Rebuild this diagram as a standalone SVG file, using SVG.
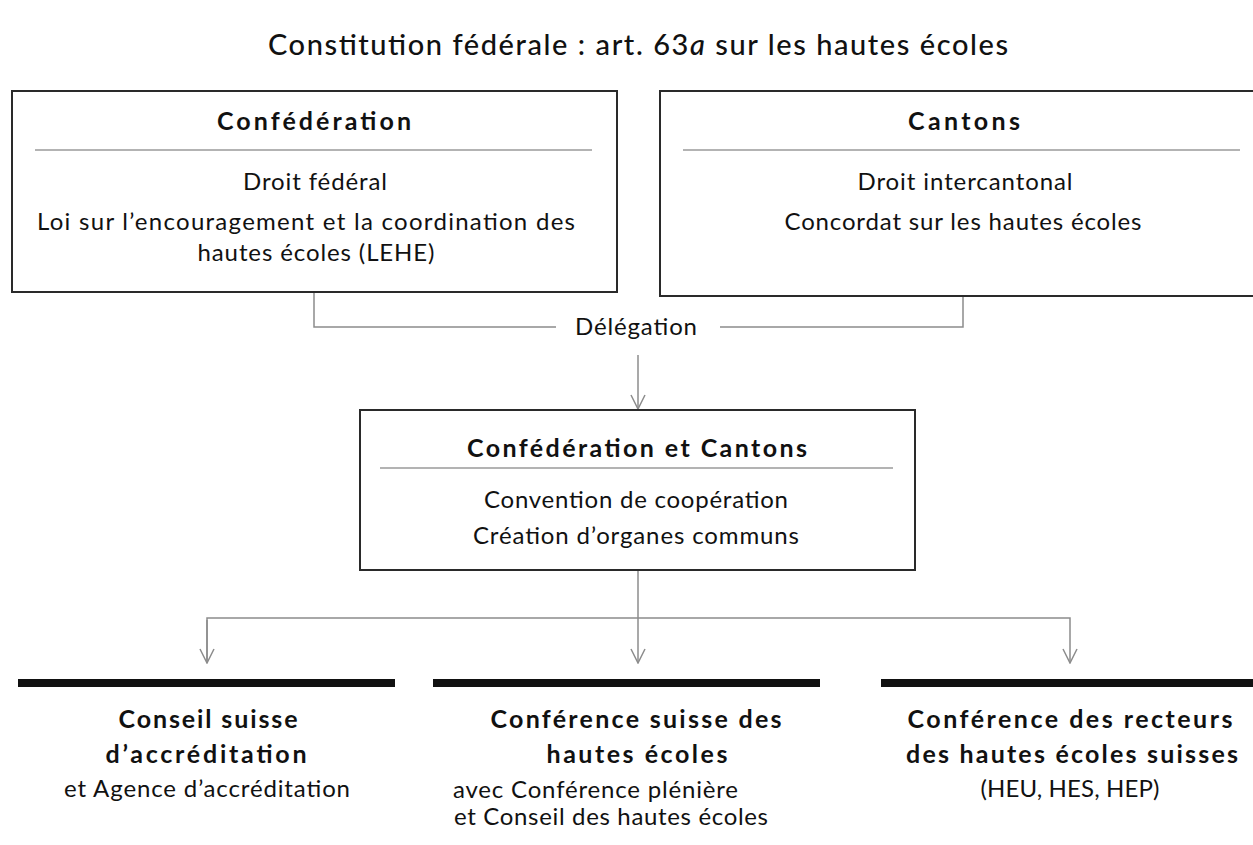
<svg xmlns="http://www.w3.org/2000/svg" width="1253" height="845" viewBox="0 0 1253 845">
<defs>
<style>
text{font-family:Lato,"Liberation Sans",Arial,sans-serif;fill:#111;}
.t{font-size:29px;text-anchor:middle;font-weight:500;}
.h{font-size:25px;font-weight:bold;text-anchor:middle;}
.b{font-size:24px;text-anchor:middle;}
.bl{font-size:24px;text-anchor:start;}
.box{fill:#fff;stroke:#2a2a2a;stroke-width:2;}
.sep{stroke:#9a9a9a;stroke-width:1.5;}
.con{fill:none;stroke:#8c8c8c;stroke-width:1.5;}
.bar{fill:#111;}
</style>
<marker id="arr" viewBox="0 0 16 16" markerWidth="16" markerHeight="16" refX="15" refY="8" orient="auto" markerUnits="userSpaceOnUse">
<path d="M1,1 L15,8 L1,15" fill="none" stroke="#8c8c8c" stroke-width="1.5"/>
</marker>
</defs>
<rect width="1253" height="845" fill="#fff"/>

<g id="title">
<text class="t" x="638" y="55" textLength="740" lengthAdjust="spacing">Constitution fédérale : art. 63<tspan font-style="italic">a</tspan> sur les hautes écoles</text>
</g>

<g id="connectors">
<polyline class="con" points="314,292 314,327 556,327"/>
<polyline class="con" points="720,327 963,327 963,296"/>
<line class="con" x1="638" y1="355" x2="638" y2="409" marker-end="url(#arr)"/>
<line class="con" x1="638" y1="570" x2="638" y2="663" marker-end="url(#arr)"/>
<polyline class="con" points="207,663 207,618 1070,618 1070,663" marker-end="url(#arr)"/>
<line class="con" x1="207" y1="620" x2="207" y2="663" marker-end="url(#arr)"/>
<text class="b" x="636" y="335" textLength="122" lengthAdjust="spacing">Délégation</text>
</g>

<g id="confederation">
<rect class="box" x="12" y="91" width="605" height="201"/>
<text class="h" x="314" y="130" textLength="194" lengthAdjust="spacing">Confédération</text>
<line class="sep" x1="35" y1="150" x2="592" y2="150"/>
<text class="b" x="315" y="190" textLength="144" lengthAdjust="spacing">Droit fédéral</text>
<text class="b" x="306" y="230" textLength="538" lengthAdjust="spacing">Loi sur l’encouragement et la coordination des</text>
<text class="b" x="316" y="261" textLength="237" lengthAdjust="spacing">hautes écoles (LEHE)</text>
</g>

<g id="cantons">
<rect class="box" x="660" y="91" width="610" height="205"/>
<text class="h" x="964" y="130" textLength="112" lengthAdjust="spacing">Cantons</text>
<line class="sep" x1="683" y1="150" x2="1240" y2="150"/>
<text class="b" x="965" y="190" textLength="215" lengthAdjust="spacing">Droit intercantonal</text>
<text class="b" x="963" y="230" textLength="357" lengthAdjust="spacing">Concordat sur les hautes écoles</text>
</g>

<g id="confederation-cantons">
<rect class="box" x="360" y="410" width="555" height="160"/>
<text class="h" x="637" y="457" textLength="340" lengthAdjust="spacing">Confédération et Cantons</text>
<line class="sep" x1="380" y1="468" x2="893" y2="468"/>
<text class="b" x="636" y="508" textLength="304" lengthAdjust="spacing">Convention de coopération</text>
<text class="b" x="636" y="544" textLength="326" lengthAdjust="spacing">Création d’organes communs</text>
</g>

<g id="conseil-accreditation">
<rect class="bar" x="18" y="679" width="377" height="8"/>
<text class="h" x="208" y="728" textLength="179" lengthAdjust="spacing">Conseil suisse</text>
<text class="h" x="206" y="763" textLength="201" lengthAdjust="spacing">d’accréditation</text>
<text class="b" x="207" y="797" textLength="286" lengthAdjust="spacing">et Agence d’accréditation</text>
</g>

<g id="conference-hautes-ecoles">
<rect class="bar" x="433" y="679" width="387" height="8"/>
<text class="h" x="636" y="728" textLength="291" lengthAdjust="spacing">Conférence suisse des</text>
<text class="h" x="637" y="763" textLength="181" lengthAdjust="spacing">hautes écoles</text>
<text class="bl" x="453" y="798" textLength="285" lengthAdjust="spacing">avec Conférence plénière</text>
<text class="bl" x="454" y="825" textLength="314" lengthAdjust="spacing">et Conseil des hautes écoles</text>
</g>

<g id="conference-recteurs">
<rect class="bar" x="881" y="679" width="372" height="8"/>
<text class="h" x="1070" y="728" textLength="325" lengthAdjust="spacing">Conférence des recteurs</text>
<text class="h" x="1072" y="763" textLength="332" lengthAdjust="spacing">des hautes écoles suisses</text>
<text class="b" x="1070" y="797" textLength="179" lengthAdjust="spacing">(HEU, HES, HEP)</text>
</g>
</svg>
